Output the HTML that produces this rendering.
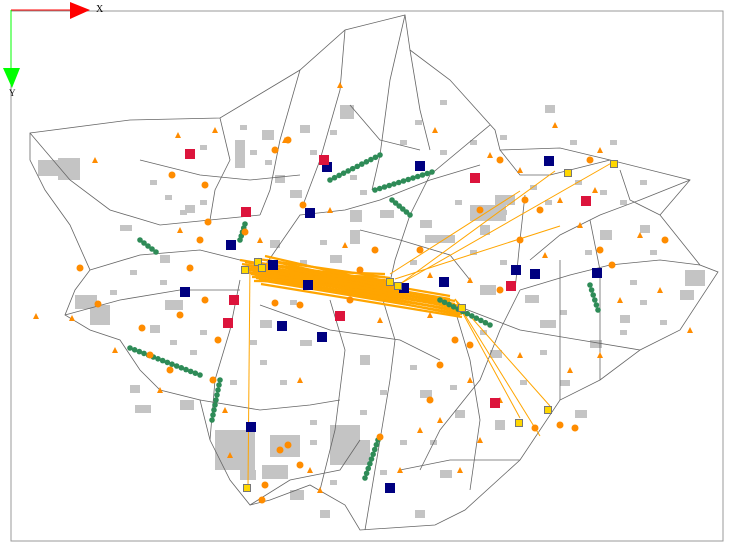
<!DOCTYPE html>
<html><head><meta charset="utf-8"><style>
body{margin:0;background:#fff;width:729px;height:546px;overflow:hidden;font-family:"Liberation Serif",serif}
svg{display:block}
</style></head><body>
<svg id="map" width="729" height="546" viewBox="0 0 729 546" xmlns="http://www.w3.org/2000/svg">
<rect x="11" y="11" width="712" height="530" fill="#fff" stroke="#999" stroke-width="1"/>
<g id="bld" fill="#c4c4c4"></g>
<polygon fill="none" stroke="#666" stroke-width="0.8" points="30,133 130,120 220,118 300,70 345,30 405,15 410,50 450,80 495,130 500,150 560,148 610,160 690,180 660,215 700,265 718,272 680,330 640,350 600,380 560,400 520,460 465,510 435,525 360,530 345,505 310,485 270,500 250,505 230,480 210,440 200,400 160,390 140,370 120,340 90,330 65,315 75,290 90,270 70,225 45,190 30,160"/>
<g id="roads" fill="none" stroke="#666" stroke-width="0.8"></g>
<g id="links" stroke="#ffa500" fill="none"></g>
<g id="green" fill="#2e8b57"></g>
<g id="tri" fill="#ff8c00"></g>
<g id="circ" fill="#ff8c00"></g>
<g id="sq"></g>
<g>
<line x1="11" y1="10" x2="72" y2="10" stroke="#f00" stroke-width="1"/>
<polygon points="70,2 90,10 70,19" fill="#f00"/>
<text x="96" y="12" font-size="10">X</text>
<line x1="11" y1="10" x2="11" y2="70" stroke="#0f0" stroke-width="1"/>
<polygon points="3,68 20,68 12,88" fill="#0f0"/>
<text x="9" y="96" font-size="9">Y</text>
</g>
</svg>
<script>
const NS="http://www.w3.org/2000/svg";
function mk(tag,parent,attrs){const e=document.createElementNS(NS,tag);for(const k in attrs)e.setAttribute(k,attrs[k]);document.getElementById(parent).appendChild(e);return e;}
const navySquares=[[231,245],[310,213],[420,166],[549,161],[185,292],[308,285],[282,326],[322,337],[444,282],[516,270],[535,274],[597,273],[251,427],[390,488],[327,167],[273,265],[404,288]];
const redSquares=[[190,154],[324,160],[475,178],[586,201],[246,212],[234,300],[228,323],[340,316],[511,286],[495,403]];
const yellowSquares=[[568,173],[614,164],[548,410],[519,423],[247,488],[245,270],[258,262],[390,282],[398,286],[262,268],[462,308]];
const linkFrom=[[245,268],[250,272],[258,265],[262,270],[255,278],[248,275],[240,266],[265,262],[400,290],[400,290],[455,305],[455,305],[250,270],[390,280],[395,285],[455,305]];
const linkTo=[[460,310],[455,305],[390,282],[398,288],[462,312],[385,278],[450,300],[405,292],[555,175],[615,165],[550,410],[520,422],[248,490],[520,195],[560,230],[540,440]];
const greenChains=[[[140,240],[156,252]],[[130,348],[200,375]],[[212,420],[220,380]],[[330,180],[380,155]],[[375,190],[432,172]],[[392,200],[410,215]],[[440,300],[490,325]],[[590,285],[598,310]],[[378,440],[365,478]],[[240,240],[245,224]]];
const circles=[[172,175],[205,185],[275,150],[288,140],[303,205],[208,222],[80,268],[142,328],[205,300],[218,340],[213,380],[170,370],[150,355],[275,303],[300,305],[360,270],[375,250],[520,240],[525,200],[540,210],[665,240],[612,265],[600,250],[590,160],[500,160],[455,340],[470,345],[440,365],[430,400],[535,428],[560,425],[575,428],[380,437],[300,465],[280,450],[265,485],[262,500],[288,445],[350,300],[420,250],[190,268],[245,232],[480,210],[500,290],[200,240],[180,315],[98,304]];
const triangles=[[36,316],[95,160],[178,135],[215,130],[285,140],[340,85],[435,130],[490,155],[555,125],[600,150],[520,170],[560,200],[580,225],[620,300],[660,290],[690,330],[600,355],[570,370],[520,355],[500,400],[480,440],[460,470],[420,430],[400,470],[320,490],[310,470],[230,455],[225,410],[160,390],[115,350],[72,318],[180,230],[260,240],[345,245],[380,320],[430,315],[470,280],[545,255],[640,235],[595,190],[330,210],[300,380],[470,380],[440,420],[430,275]];
const roads=[[[30,133],[70,180],[110,210],[160,225],[210,220],[260,215]],[[90,270],[140,255],[200,250],[240,260]],[[300,70],[280,140],[270,190],[260,215]],[[220,118],[230,160],[215,190],[210,220]],[[345,30],[340,90],[320,160],[303,205]],[[405,15],[390,80],[380,155],[372,190]],[[490,125],[430,175],[410,215],[395,260],[390,282]],[[500,150],[520,175],[550,175],[610,160]],[[690,180],[640,200],[600,215],[560,235],[530,260]],[[700,265],[660,260],[610,265],[570,275],[520,290]],[[262,270],[300,215],[345,210],[380,200],[430,180],[480,165]],[[240,280],[230,330],[215,380],[210,440]],[[330,300],[345,350],[335,430],[320,490]],[[380,290],[395,340],[390,380],[380,440],[365,530]],[[455,310],[470,360],[480,420],[470,490]],[[455,305],[520,330],[580,340],[640,350]],[[520,290],[500,330],[480,380],[440,430],[420,470]],[[200,400],[260,410],[310,405],[340,400]],[[260,305],[330,330],[400,340],[440,360]],[[65,315],[120,300],[180,290],[240,290]],[[360,230],[400,240],[450,255],[470,280]],[[560,400],[560,330],[560,260]],[[600,380],[600,320],[600,270],[590,220]],[[250,505],[290,480],[340,470],[360,440]],[[400,470],[450,460],[520,460]],[[140,160],[200,175],[250,180],[300,175]],[[410,50],[420,110],[430,150]],[[620,170],[630,200],[660,215]],[[525,195],[520,240],[515,290]],[[350,105],[380,140],[420,150]]];
const buildings=[[38,160,22,16],[58,158,22,22],[235,140,10,28],[262,130,12,10],[300,125,10,8],[340,105,14,14],[545,105,10,8],[470,205,36,16],[495,195,20,10],[425,235,30,8],[350,210,12,12],[350,230,10,14],[380,210,14,8],[275,175,10,8],[290,190,12,8],[165,300,18,10],[150,325,10,8],[75,295,22,14],[90,305,20,20],[215,430,40,40],[270,435,30,22],[262,465,26,14],[240,470,16,10],[330,425,30,40],[345,440,25,25],[685,270,20,16],[680,290,14,10],[620,315,10,8],[480,285,16,10],[525,295,14,8],[540,320,16,8],[590,340,12,8],[575,410,12,8],[495,420,10,10],[455,410,10,8],[420,390,12,8],[260,320,12,8],[300,340,12,6],[360,355,10,10],[180,400,14,10],[135,405,16,8],[130,385,10,8],[490,350,12,8],[600,230,12,10],[640,225,10,8],[420,220,12,8],[480,225,10,10],[330,255,12,8],[270,240,10,8],[185,205,10,8],[120,225,12,6],[160,255,10,8],[440,470,12,8],[290,490,14,10],[320,510,10,8],[415,510,10,8],[560,380,10,6]];
for(const b of buildings){mk('rect','bld',{x:b[0],y:b[1],width:b[2],height:b[3]});}
const specks=[[150,180],[165,195],[180,210],[200,200],[250,150],[265,160],[310,150],[350,175],[360,190],[400,140],[415,120],[440,150],[455,200],[500,210],[530,185],[545,200],[575,180],[600,190],[620,200],[640,180],[650,250],[630,280],[620,330],[560,310],[540,350],[520,380],[480,330],[450,385],[410,365],[380,390],[360,410],[310,420],[280,380],[260,360],[230,380],[190,350],[170,340],[160,280],[130,270],[110,290],[300,260],[320,240],[340,280],[410,260],[470,250],[500,260],[585,250],[640,300],[660,320],[430,440],[400,440],[380,470],[330,480],[310,440],[290,300],[250,340],[200,330],[570,140],[610,140],[500,135],[470,140],[440,100],[330,130],[240,125],[200,145]];
for(const s of specks){const r=mk('rect','bld',{x:s[0],y:s[1],width:7,height:5});}
for(const r of roads){const p=mk('polyline','roads',{points:r.map(q=>q.join(',')).join(' ')});}
for(let i=0;i<linkFrom.length;i++){const main=i<8;const n=main?4:1;for(let k=0;k<n;k++){const l=mk('line','links',{x1:linkFrom[i][0]+k*2,y1:linkFrom[i][1]+k*4-6,x2:linkTo[i][0],y2:linkTo[i][1]+k*3-4,'stroke-width':main?2.2:1});}}
for(const c of greenChains){const n=Math.max(4,Math.round(Math.hypot(c[1][0]-c[0][0],c[1][1]-c[0][1])/5));for(let i=0;i<=n;i++){const t=i/n;const e=mk('circle','green',{cx:c[0][0]+(c[1][0]-c[0][0])*t,cy:c[0][1]+(c[1][1]-c[0][1])*t,r:2.8});}}
for(const t of triangles){const e=mk('polygon','tri',{points:`${t[0]},${t[1]-3} ${t[0]-3},${t[1]+3} ${t[0]+3},${t[1]+3}`});}
for(const c of circles){const e=mk('circle','circ',{cx:c[0],cy:c[1],r:3.5});}
for(const s of navySquares){const e=mk('rect','sq',{x:s[0]-5,y:s[1]-5,width:10,height:10,fill:'#000080'});}
for(const s of redSquares){const e=mk('rect','sq',{x:s[0]-5,y:s[1]-5,width:10,height:10,fill:'#dc143c'});}
for(const s of yellowSquares){const e=mk('rect','sq',{x:s[0]-3.5,y:s[1]-3.5,width:7,height:7,fill:'#ffd700',stroke:'#777','stroke-width':1});}
</script>
</body></html>
